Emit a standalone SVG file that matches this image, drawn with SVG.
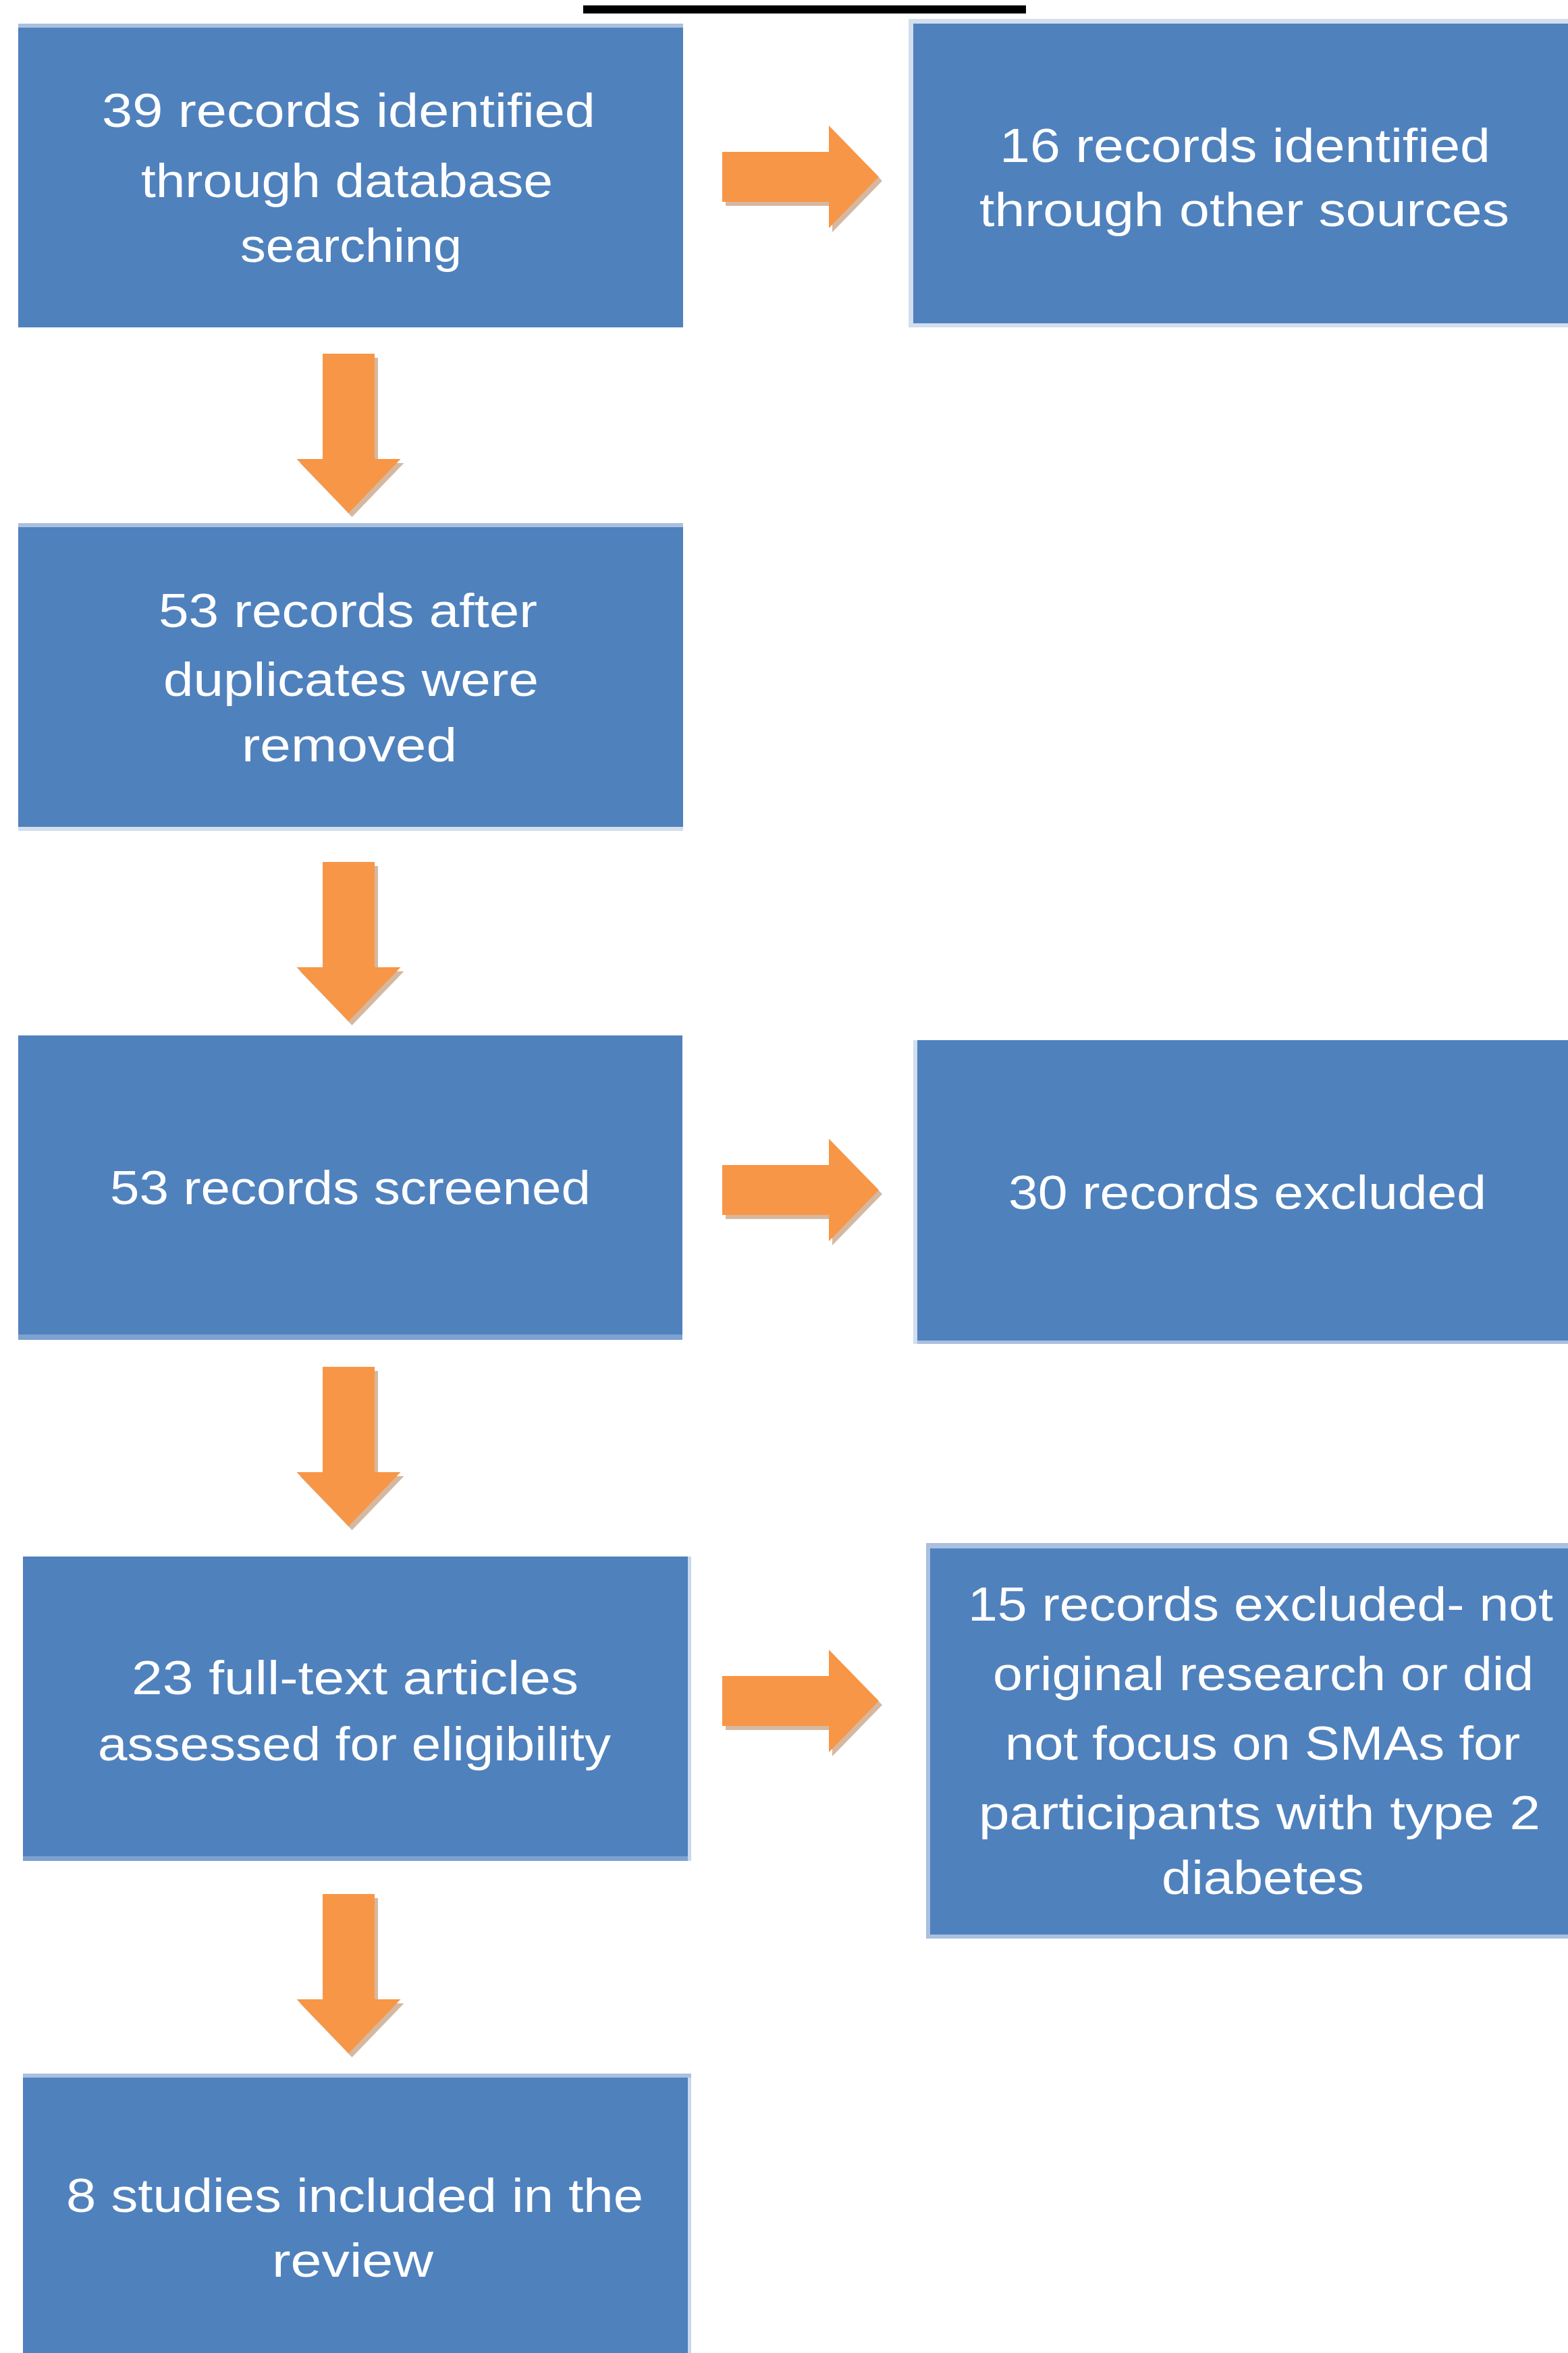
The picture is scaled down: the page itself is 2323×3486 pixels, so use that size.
<svg xmlns="http://www.w3.org/2000/svg" xmlns:xlink="http://www.w3.org/1999/xlink" width="2323" height="3486" viewBox="0 0 2323 3486">
<style>
.box{fill:#4F81BD;}
.edge{fill:#A9C0DF;}
.lbl{font-family:"Liberation Sans","Open Sans",sans-serif;font-size:70px;fill:#FFFFFF;}
.arr{fill:#F79646;}
.shd{fill:#C49A78;opacity:0.7;}
</style>
<defs>
<polygon id="rarrow" points="0,-37 158,-37 158,-76 232,0 158,76 158,37 0,37"/>
<polygon id="darrow" points="-38.5,0 38.5,0 38.5,156 77,156 0,236 -77,156 -38.5,156"/>
</defs>
<rect x="0" y="0" width="2323" height="3486" fill="#FFFFFF"/>
<rect x="864" y="8" width="656" height="12" fill="#000000"/>

<g id="connectors">
<g id="arrow-1-2" transform="translate(1070,262)"><use xlink:href="#rarrow" class="shd" transform="translate(5,6)"/><use xlink:href="#rarrow" class="arr"/></g>
<g id="arrow-1-3" transform="translate(516.5,524)"><use xlink:href="#darrow" class="shd" transform="translate(5,6)"/><use xlink:href="#darrow" class="arr"/></g>
<g id="arrow-3-4" transform="translate(516.5,1277)"><use xlink:href="#darrow" class="shd" transform="translate(5,6)"/><use xlink:href="#darrow" class="arr"/></g>
<g id="arrow-4-5" transform="translate(1070,1763)"><use xlink:href="#rarrow" class="shd" transform="translate(5,6)"/><use xlink:href="#rarrow" class="arr"/></g>
<g id="arrow-4-6" transform="translate(516.5,2025)"><use xlink:href="#darrow" class="shd" transform="translate(5,6)"/><use xlink:href="#darrow" class="arr"/></g>
<g id="arrow-6-7" transform="translate(1070,2520)"><use xlink:href="#rarrow" class="shd" transform="translate(5,6)"/><use xlink:href="#rarrow" class="arr"/></g>
<g id="arrow-6-8" transform="translate(516.5,2806)"><use xlink:href="#darrow" class="shd" transform="translate(5,6)"/><use xlink:href="#darrow" class="arr"/></g>
</g>

<g id="node-identified-db">
<rect class="edge" x="27" y="35" width="985" height="6"/>
<rect class="box" x="27" y="41" width="985" height="444"/>
<text class="lbl" x="151" y="188" textLength="731" lengthAdjust="spacingAndGlyphs">39 records identified</text>
<text class="lbl" x="209" y="292" textLength="610" lengthAdjust="spacingAndGlyphs">through database</text>
<text class="lbl" x="356" y="388" textLength="328" lengthAdjust="spacingAndGlyphs">searching</text>
</g>

<g id="node-identified-other">
<rect x="1346" y="28" width="977" height="457" fill="#D3DEEE"/>
<rect class="box" x="1353" y="35" width="970" height="444"/>
<text class="lbl" x="1481" y="240" textLength="727" lengthAdjust="spacingAndGlyphs">16 records identified</text>
<text class="lbl" x="1451" y="335" textLength="785" lengthAdjust="spacingAndGlyphs">through other sources</text>
</g>

<g id="node-after-duplicates">
<rect class="edge" x="27" y="775" width="985" height="6"/>
<rect class="box" x="27" y="781" width="985" height="444"/>
<rect x="27" y="1225" width="985" height="6" fill="#D3DEEE"/>
<text class="lbl" x="235" y="929" textLength="561" lengthAdjust="spacingAndGlyphs">53 records after</text>
<text class="lbl" x="242" y="1031" textLength="556" lengthAdjust="spacingAndGlyphs">duplicates were</text>
<text class="lbl" x="358" y="1128" textLength="319" lengthAdjust="spacingAndGlyphs">removed</text>
</g>

<g id="node-screened">
<rect class="box" x="27" y="1534" width="984" height="443"/>
<rect x="27" y="1977" width="984" height="8" fill="#7DA1D0"/>
<text class="lbl" x="163" y="1784" textLength="712" lengthAdjust="spacingAndGlyphs">53 records screened</text>
</g>

<g id="node-excluded-30">
<rect x="1353" y="1541" width="6" height="450" fill="#D3DEEE"/>
<rect class="box" x="1359" y="1541" width="964" height="445"/>
<rect class="edge" x="1359" y="1986" width="964" height="5"/>
<text class="lbl" x="1494" y="1791" textLength="708" lengthAdjust="spacingAndGlyphs">30 records excluded</text>
</g>

<g id="node-full-text">
<rect class="box" x="34" y="2306" width="985" height="444"/>
<rect x="34" y="2750" width="985" height="7" fill="#7DA1D0"/>
<rect x="1019" y="2306" width="5" height="451" fill="#C9D8EC"/>
<text class="lbl" x="195" y="2510" textLength="662" lengthAdjust="spacingAndGlyphs">23 full-text articles</text>
<text class="lbl" x="145" y="2608" textLength="760" lengthAdjust="spacingAndGlyphs">assessed for eligibility</text>
</g>

<g id="node-excluded-15">
<rect x="1372" y="2286" width="951" height="586" fill="#A9C0DF"/>
<rect class="box" x="1378" y="2294" width="945" height="572"/>
<text class="lbl" x="1434" y="2401" textLength="867" lengthAdjust="spacingAndGlyphs">15 records excluded- not</text>
<text class="lbl" x="1471" y="2504" textLength="801" lengthAdjust="spacingAndGlyphs">original research or did</text>
<text class="lbl" x="1489" y="2607" textLength="763" lengthAdjust="spacingAndGlyphs">not focus on SMAs for</text>
<text class="lbl" x="1450" y="2710" textLength="832" lengthAdjust="spacingAndGlyphs">participants with type 2</text>
<text class="lbl" x="1721" y="2806" textLength="300" lengthAdjust="spacingAndGlyphs">diabetes</text>
</g>

<g id="node-included">
<rect class="edge" x="34" y="3072" width="990" height="6"/>
<rect class="box" x="34" y="3078" width="985" height="408"/>
<rect x="1019" y="3078" width="5" height="408" fill="#C9D8EC"/>
<text class="lbl" x="98" y="3277" textLength="855" lengthAdjust="spacingAndGlyphs">8 studies included in the</text>
<text class="lbl" x="403" y="3373" textLength="239" lengthAdjust="spacingAndGlyphs">review</text>
</g>
</svg>
